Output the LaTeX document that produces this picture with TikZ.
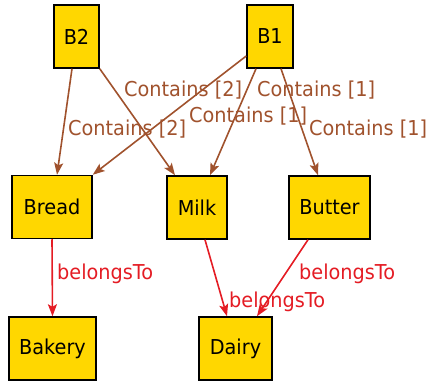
\documentclass[tikz,border=0pt]{standalone}
\usepackage{fontspec}
\setmainfont{DejaVu Sans}[FakeStretch=0.94]
\usetikzlibrary{arrows.meta}
\definecolor{boxfill}{RGB}{255,215,0}
\definecolor{contcol}{RGB}{160,82,45}
\definecolor{belcol}{RGB}{228,28,36}
\tikzset{
  entity/.style={draw=black, line width=1.5pt, fill=boxfill, inner sep=0pt, minimum height=63pt, font=\fontsize{20.5}{24}\selectfont},
  contains/.style={draw=contcol, line width=1.6pt, -{Stealth[length=12pt,width=9pt,inset=2.5pt]}},
  belongs/.style={draw=belcol, line width=1.6pt, -{Stealth[length=12pt,width=9pt,inset=2.5pt]}},
  clabel/.style={text=contcol, anchor=base west, inner sep=0pt, font=\fontsize{20.5}{24}\selectfont},
  blabel/.style={text=belcol, anchor=base west, inner sep=0pt, font=\fontsize{20.5}{24}\selectfont}
}
\begin{document}
\begin{tikzpicture}[x=1pt,y=-1pt]
\useasboundingbox (0,0) rectangle (428,382);
\node[entity, minimum width=45pt] (B2) at (76.5,36.5) {B2};
\node[entity, minimum width=46pt] (B1) at (270,36.5) {B1};
\node[entity, minimum width=80pt] (Bread) at (52,207) {Bread};
\node[entity, minimum width=60pt] (Milk) at (197,207.5) {Milk};
\node[entity, minimum width=81pt] (Butter) at (329.5,207.5) {Butter};
\node[entity, minimum width=87pt] (Bakery) at (52.5,348.5) {Bakery};
\node[entity, minimum width=73pt] (Dairy) at (235.5,348.5) {Dairy};

\draw[contains] ([xshift=-4.5pt]B2.south) -- ([xshift=5pt]Bread.north);
\draw[contains] (B2.south east) -- ([xshift=-22pt]Milk.north);
\draw[contains] ([yshift=-19.5pt]B1.west) -- (Bread.north east);
\draw[contains] ([xshift=-14pt]B1.south) -- ([xshift=13pt]Milk.north);
\draw[contains] ([xshift=11pt]B1.south) -- ([xshift=-11.5pt]Butter.north);
\draw[belongs] (Bread.south) -- (Bakery.north);
\draw[belongs] ([xshift=8pt]Milk.south) -- ([xshift=-8.5pt]Dairy.north);
\draw[belongs] ([xshift=-21.5pt]Butter.south) -- ([xshift=21.5pt]Dairy.north);

\node[clabel] (l1) at (124,96.5) {Contains [2]};
\node[clabel] (l2) at (257,96.5) {Contains [1]};
\node[clabel] (l3) at (189,122.5) {Contains [1]};
\node[clabel] (l4) at (68,136) {Contains [2]};
\node[clabel] (l5) at (309,136) {Contains [1]};
\node[blabel] (l6) at (57,279) {belongsTo};
\node[blabel] (l7) at (299,279) {belongsTo};
\node[blabel] (l8) at (229,307) {belongsTo};
\end{tikzpicture}
\end{document}
